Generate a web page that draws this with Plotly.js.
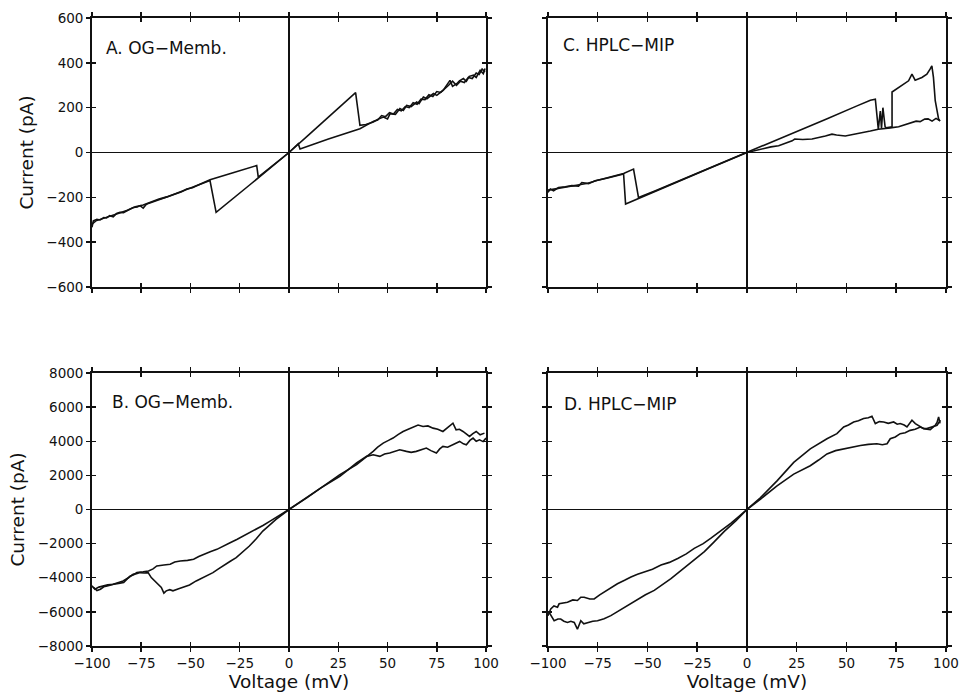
<!DOCTYPE html>
<html>
<head>
<meta charset="utf-8">
<script src="https://cdn.plot.ly/plotly-3.0.1.min.js"></script>
<style>html,body{margin:0;padding:0;background:#fff;}#chart{width:960px;height:694px;}</style>
</head>
<body>
<div id="chart"></div>
<script>
// ---------- tick values ----------
const xTicks = [-100, -75, -50, -25, 0, 25, 50, 75, 100];
const yTicksTop = [-600, -400, -200, 0, 200, 400, 600];
const yTicksBot = [-8000, -6000, -4000, -2000, 0, 2000, 4000, 6000, 8000];

// ---------- panel labels ----------
const panelLabels = ["A. OG\u2212Memb.", "C. HPLC\u2212MIP", "B. OG\u2212Memb.", "D. HPLC\u2212MIP"];

// ---------- Panel A (voltage mV, current pA) ----------
const A_up_v = [-100, -99.3, -97.5, -95.9, -94, -92.6, -91, -89.2, -87.5, -85.8, -84, -82.4, -80.5, -79, -77, -75.6, -74, -72.5, -71.4, -69, -67.2, -65, -62.1, -60, -57, -54.5, -51.9, -49, -46.9, -44.5, -42.6, -40.1, -28, -16.4, -15.6, 0, 10, 20, 33.8, 36, 39, 42.8, 45, 47.9, 50, 51.3, 54, 56.3, 58, 59.7, 62, 64.8, 66, 68.2, 70, 73.3, 75, 78.3, 80, 81.7, 83, 85.1, 86.5, 88.5, 90, 91.5, 93.6, 95, 97, 98.6, 99.5];
const A_up_i = [-334, -305, -298, -301, -290, -292, -282, -287, -272, -267, -268, -260, -252, -245, -243, -237, -248, -232, -227, -220, -212, -206, -197, -191, -182, -175, -163, -157, -148, -140, -133, -122, -89, -58, -110, 0, 79, 158, 267, 121, 125, 136, 148, 158, 150, 173, 170, 196, 188, 210, 205, 225, 218, 248, 240, 263, 255, 278, 300, 322, 295, 307, 320, 330, 318, 340, 345, 335, 367, 352, 375];
const A_dn_v = [99.5, 98, 96.5, 95, 93, 91, 89, 87, 85, 83, 81, 79, 77, 75, 73, 71, 69, 67, 65, 63, 61, 59, 57, 55, 53, 51, 49, 47, 45, 43, 40, 36, 20, 5.6, 4.7, 0, -20, -37, -40.1, -43, -46, -50, -54, -58, -62, -66, -70, -74, -78, -82, -86, -90, -94, -98, -100];
const A_dn_i = [360, 372, 348, 355, 330, 335, 312, 318, 300, 318, 300, 285, 268, 272, 250, 258, 236, 238, 215, 222, 200, 205, 186, 192, 172, 178, 160, 165, 145, 140, 125, 106, 60, 16, 39, 0, -145, -267, -125, -135, -146, -160, -172, -186, -198, -208, -222, -234, -242, -258, -270, -282, -294, -305, -320];

// ---------- Panel C ----------
const C_up_v = [-100, -98.8, -97.2, -94.7, -91.3, -88, -84.6, -83, -79.6, -76.3, -73, -69.6, -66.3, -62, -57, -54.5, -46, -20, 0, 20, 40, 55, 62, 64.5, 66, 67, 67.6, 68.3, 69.4, 70, 72.9, 72.9, 73.7, 76.2, 78.7, 81.2, 82.9, 84.5, 87.9, 90.4, 92, 92.9, 93.7, 94.6, 96.3, 97];
const C_up_i = [-178, -163, -171, -156, -153, -148, -150, -134, -139, -126, -119, -112, -104, -94, -74, -201, -171, -75, 0, 75, 150, 207, 233, 238, 104, 185, 108, 200, 115, 110, 115, 270, 275, 290, 305, 320, 350, 323, 335, 350, 372, 387, 335, 231, 149, 141];
const C_dn_v = [97, 95, 93, 91, 89.3, 87, 85, 83, 80, 76.2, 72, 69, 66, 62, 57.7, 53, 49.4, 45, 42.7, 39.4, 36, 32.7, 28, 24, 22.7, 20, 15.9, 12, 7.5, 0, -20, -40, -61, -62, -66, -70, -75, -80, -85, -90, -95, -100];
const C_dn_i = [141, 152, 140, 150, 149, 138, 140, 134, 125, 115, 110, 108, 104, 96, 89, 82, 74, 78, 82, 74, 66, 60, 58, 60, 52, 44, 30, 25, 15, 0, -75, -151, -230, -96, -106, -114, -124, -137, -145, -152, -160, -168];

// ---------- Panel B ----------
const B_1_v = [-99.1, -97.5, -95.7, -94, -92.3, -90.5, -89, -86.5, -83.9, -82, -80.5, -78.8, -77.2, -74, -71.3, -69, -67.1, -63.5, -60.3, -58, -55.2, -51.5, -48.4, -45.8, -43.4, -40, -36.6, -33, -29.9, -26.5, -23.1, -20, -16.4, -13, -9.6, -4.6, 0, 9, 17.4, 25.8, 34.3, 38.5, 42.7, 45, 47.8, 50.5, 52.8, 55.5, 57.9, 60.5, 63, 65.5, 68, 70.5, 73.1, 75.5, 78.1, 80, 81.5, 83.2, 84.8, 86.5, 88.3, 90, 91.6, 93.3, 95, 97, 99.2];
const B_1_i = [-4573, -4750, -4672, -4530, -4478, -4400, -4380, -4330, -4283, -4050, -3893, -3820, -3699, -3650, -3601, -3480, -3309, -3250, -3212, -3080, -3017, -2980, -2920, -2760, -2628, -2480, -2336, -2150, -1947, -1760, -1557, -1360, -1168, -920, -681, -350, 0, 681, 1363, 2044, 2628, 3000, 3407, 3650, 3893, 4050, 4186, 4400, 4575, 4700, 4828, 4950, 4867, 4900, 4770, 4700, 4575, 4750, 4867, 5061, 4672, 4700, 4575, 4400, 4283, 4450, 4575, 4380, 4477];
const B_2_v = [-100, -98.5, -96.5, -94.3, -92, -89.2, -86.5, -84.2, -81.5, -79.1, -77.4, -75.7, -73.5, -71.5, -69.9, -67.3, -64.8, -63.5, -62.3, -60.5, -58.9, -56, -53.8, -50.5, -47.1, -43.7, -40.5, -38.6, -36, -33.6, -30, -26.8, -23.5, -20.1, -16.5, -13.3, -10, -6.6, 0, 8, 16, 25.8, 30, 34.3, 39.4, 42.7, 46.1, 48.5, 51.1, 53.5, 56.2, 59.6, 62, 64.6, 67, 69.7, 72, 74.8, 76.5, 78.1, 80.5, 83.2, 85, 86.6, 88.5, 90, 91.8, 93.4, 95, 96.7, 98.5, 100];
const B_2_i = [-4478, -4672, -4550, -4478, -4420, -4380, -4250, -4186, -4000, -3796, -3760, -3699, -3720, -3699, -3991, -4283, -4573, -4900, -4769, -4700, -4769, -4650, -4560, -4420, -4186, -3991, -3800, -3699, -3500, -3309, -3050, -2823, -2480, -2141, -1700, -1265, -930, -584, 0, 620, 1250, 1947, 2350, 2725, 3115, 3212, 3115, 3250, 3309, 3400, 3504, 3407, 3350, 3407, 3500, 3601, 3450, 3309, 3550, 3699, 3650, 3796, 3900, 3991, 3850, 3796, 4050, 4186, 4000, 4088, 3980, 4186];

// ---------- Panel D ----------
const D_1_v = [-100, -98.6, -97, -95.2, -94.4, -92, -90.2, -87.5, -85.2, -83.5, -81.8, -79, -76.8, -74, -71.8, -68.5, -65.1, -61.5, -58.3, -55, -51.6, -47.5, -43.2, -39, -34.8, -30.5, -26.5, -22, -18.1, -13, -8, -4, 0, 6.7, 15.1, 23.5, 31.8, 36, 40.2, 45.2, 48.6, 51, 53.6, 56, 58.6, 61, 62.8, 64.5, 66.5, 68.7, 71, 73.7, 75.5, 77, 79, 80.4, 82.9, 84.6, 86.5, 88.8, 90.5, 92.1, 94.6, 95.5, 96.3, 97];
const D_1_i = [-6222, -5826, -5650, -5728, -5530, -5500, -5437, -5300, -5333, -5140, -5140, -5250, -5239, -5000, -4841, -4600, -4350, -4150, -3953, -3800, -3656, -3500, -3259, -3100, -2868, -2600, -2276, -2000, -1683, -1250, -794, -400, 0, 687, 1677, 2762, 3556, 3850, 4148, 4445, 4836, 4950, 5132, 5200, 5333, 5380, 5470, 5037, 5150, 5132, 5050, 5132, 5000, 5037, 4950, 4836, 5233, 5037, 4900, 4741, 4700, 4682, 4939, 5100, 5429, 5050];
const D_2_v = [-99.4, -98, -96.9, -95, -93.6, -92, -90.2, -88.5, -86.8, -85.2, -83.5, -82, -80.1, -77.5, -75.1, -71.8, -68.4, -65, -61.7, -58.3, -55, -51, -46.6, -42.5, -38.2, -34, -29.8, -25.5, -21.4, -16.5, -11.4, -5.5, 0, 7, 15.1, 23.5, 31.8, 36, 40.2, 44.5, 48.6, 53, 57, 61, 65.3, 68, 70.4, 72, 74.5, 77, 79.5, 82, 84.5, 87.1, 88.8, 90.4, 93, 95.5, 97.2];
const D_2_i = [-6025, -6300, -6519, -6420, -6420, -6550, -6618, -6550, -6618, -7016, -6519, -6700, -6618, -6550, -6519, -6400, -6222, -5980, -5730, -5500, -5239, -5000, -4741, -4400, -4053, -3650, -3259, -2850, -2471, -1900, -1286, -650, 0, 630, 1381, 2074, 2566, 2900, 3259, 3450, 3556, 3650, 3751, 3820, 3852, 3800, 3852, 4148, 4250, 4445, 4500, 4640, 4700, 4836, 4750, 4741, 4850, 4939, 5233];

// ---------- build ----------
const FONT = "DejaVu Sans, Liberation Sans, sans-serif";
const INK = "#111";
const lineStyle = {color: INK, width: 1.6};
const fmt = v => (v < 0 ? "\u2212" + Math.abs(v) : String(v));

function tr(x, y, xa, ya) {
  return {x: x, y: y, xaxis: xa, yaxis: ya, type: "scatter", mode: "lines",
          line: lineStyle, showlegend: false, hoverinfo: "skip"};
}
function empty(xa, ya) {
  return {x: [null], y: [null], xaxis: xa, yaxis: ya, type: "scatter", mode: "lines",
          showlegend: false, hoverinfo: "skip"};
}

const data = [
  tr(A_up_v, A_up_i, "x", "y"), tr(A_dn_v, A_dn_i, "x", "y"),
  tr(C_up_v, C_up_i, "x2", "y2"), tr(C_dn_v, C_dn_i, "x2", "y2"),
  tr(B_1_v, B_1_i, "x3", "y3"), tr(B_2_v, B_2_i, "x3", "y3"),
  tr(D_1_v, D_1_i, "x4", "y4"), tr(D_2_v, D_2_i, "x4", "y4"),
  empty("x5", "y"), empty("x", "y5"),
  empty("x6", "y2"), empty("x2", "y6"),
  empty("x7", "y3"), empty("x3", "y7"),
  empty("x8", "y4"), empty("x4", "y8")
];

const LEFT = [0.0958, 0.5063], RIGHT = [0.5708, 0.9854];
const TOP = [0.5865, 0.974], BOT = [0.0692, 0.4625];
const tickFont = {family: FONT, size: 13.5, color: INK};
const titleFont = {family: FONT, size: 18.5, color: INK};

function xMain(dom, anchor, labels) {
  const o = {domain: dom, anchor: anchor, range: [-100, 100], tickmode: "array", tickvals: xTicks,
    ticktext: xTicks.map(fmt), showticklabels: labels, ticks: "outside", ticklen: 4, tickwidth: 1.5,
    tickcolor: INK, showline: true, linecolor: INK, linewidth: 1.8, mirror: "ticks",
    showgrid: false, zeroline: true, zerolinecolor: INK, zerolinewidth: 1.1,
    tickfont: tickFont, fixedrange: true};
  if (labels) o.title = {text: "Voltage (mV)", font: titleFont, standoff: 0};
  return o;
}
function yMain(dom, anchor, range, ticks, labels) {
  const o = {domain: dom, anchor: anchor, range: range, tickmode: "array", tickvals: ticks,
    ticktext: ticks.map(fmt), showticklabels: labels, ticks: "outside", ticklen: 4, tickwidth: 1.5,
    tickcolor: INK, showline: true, linecolor: INK, linewidth: 1.8, mirror: "ticks",
    showgrid: false, zeroline: true, zerolinecolor: INK, zerolinewidth: 1.3,
    tickfont: tickFont, fixedrange: true};
  if (labels) o.title = {text: "Current (pA)", font: titleFont, standoff: 8};
  return o;
}
function xIn(over, anchor) {
  return {overlaying: over, anchor: anchor, range: [-100, 100], tickmode: "array", tickvals: xTicks,
    showticklabels: false, ticks: "inside", ticklen: 4, tickwidth: 1.5, tickcolor: INK,
    showline: false, mirror: "ticks", showgrid: false, zeroline: false, fixedrange: true};
}
function yIn(over, anchor, range, ticks) {
  return {overlaying: over, anchor: anchor, range: range, tickmode: "array", tickvals: ticks,
    showticklabels: false, ticks: "inside", ticklen: 4, tickwidth: 1.5, tickcolor: INK,
    showline: false, mirror: "ticks", showgrid: false, zeroline: false, fixedrange: true};
}

function label(text, xa, ya, px, py) {
  return {text: text, xref: xa + " domain", yref: ya + " domain", x: px, y: py,
    xanchor: "left", yanchor: "middle", showarrow: false,
    font: {family: FONT, size: 17, color: INK}};
}

const layout = {
  width: 960, height: 694,
  margin: {l: 0, r: 0, t: 0, b: 0},
  paper_bgcolor: "#fff", plot_bgcolor: "#fff",
  showlegend: false,
  font: {family: FONT, color: INK},
  xaxis: xMain(LEFT, "y", false),
  yaxis: yMain(TOP, "x", [-600, 600], yTicksTop, true),
  xaxis2: xMain(RIGHT, "y2", false),
  yaxis2: yMain(TOP, "x2", [-600, 600], yTicksTop, false),
  xaxis3: xMain(LEFT, "y3", true),
  yaxis3: yMain(BOT, "x3", [-8000, 8000], yTicksBot, true),
  xaxis4: xMain(RIGHT, "y4", true),
  yaxis4: yMain(BOT, "x4", [-8000, 8000], yTicksBot, false),
  xaxis5: xIn("x", "y"), yaxis5: yIn("y", "x", [-600, 600], yTicksTop),
  xaxis6: xIn("x2", "y2"), yaxis6: yIn("y2", "x2", [-600, 600], yTicksTop),
  xaxis7: xIn("x3", "y3"), yaxis7: yIn("y3", "x3", [-8000, 8000], yTicksBot),
  xaxis8: xIn("x4", "y4"), yaxis8: yIn("y4", "x4", [-8000, 8000], yTicksBot),
  annotations: [
    label(panelLabels[0], "x", "y", 0.03, 0.888),
    label(panelLabels[1], "x2", "y2", 0.033, 0.90),
    label(panelLabels[2], "x3", "y3", 0.046, 0.895),
    label(panelLabels[3], "x4", "y4", 0.034, 0.886)
  ]
};

Plotly.newPlot("chart", data, layout, {staticPlot: true, displayModeBar: false});
</script>
</body>
</html>
